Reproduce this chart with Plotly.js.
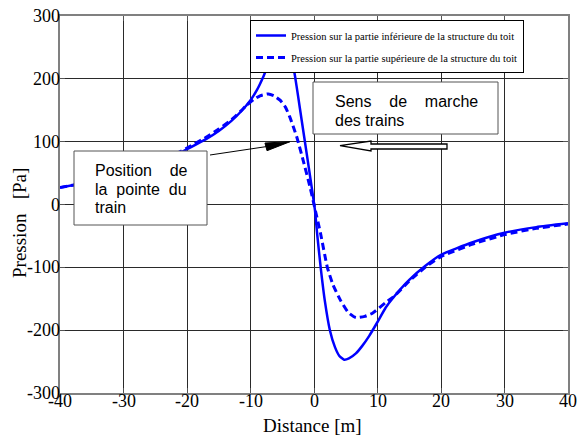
<!DOCTYPE html>
<html>
<head>
<meta charset="utf-8">
<script src="https://cdn.plot.ly/plotly-3.0.1.min.js"></script>
<style>html,body{margin:0;padding:0;background:#fff;}#chart{width:579px;height:435px;}</style>
</head>
<body>
<div id="chart"></div>
<script>
// ---- data ----
const distLower = [-40,-37.8,-35,-30,-25,-20,-17,-15,-13,-11.5,-10,-9,-8,-7,-6,-5,-4,-3.5,-3,-2.5,-1.94,-1.15,-0.37,0.15,0.5,1.05,1.7,2.5,3.3,4,4.74,5.5,6.6,7.6,8.7,10,11.3,12.5,15,17.5,20,25,30,35,40];
const presLower = [27,31,36,46,62,88,104,117,133,148,166,182,203,228,251,262,251,233,205,172,134,81,28,-9,-47,-100,-153,-200,-227,-241,-247,-245,-237,-225,-209,-187,-164,-148,-120,-98,-80,-60,-45,-36,-30];
const distUpper = [-40,-37.8,-35,-30,-25,-20,-17,-15,-13,-11.5,-10.6,-9.5,-8.5,-7.2,-6.3,-5.35,-4.5,-3.8,-3.2,-2.7,-1.7,-0.63,0,1.05,2.1,3,4.2,5.4,6.6,8,9.2,11.3,12.5,15,17.5,20,25,30,35,40];
const presUpper = [27,31,36,47,64,90,107,120,135,149,158,167,173,176,173,166,155,139,122,107,70,28,0,-47,-100,-128,-153,-172,-180,-178,-173,-156,-147,-122,-100,-83,-63,-48,-38,-31];
const nameLower = 'Pression sur la partie inférieure de la structure du toit';
const nameUpper = 'Pression sur la partie supérieure de la structure du toit';
const xTicks = [-40,-30,-20,-10,0,10,20,30,40];
const xTickText = ['-40','-30','-20','-10','0','10','20','30','40'];
const yTicks = [-300,-200,-100,0,100,200,300];
const yTickText = ['-300','-200','-100','0','100','200','300'];
const xTitle = 'Distance [m]';
const yTitle = 'Pression   [Pa]';

// ---- layout geometry ----
const W=579, H=435, L=60, R=11, T=16, B=42;
const PW=W-L-R, PH=H-T-B;
const fx = p => (p-L)/PW;
const fy = p => (H-B-p)/PH;
const pt = (x,y) => fx(x).toFixed(4)+','+fy(y).toFixed(4);

const serif = 'Liberation Serif';
const sans = 'Liberation Sans';
const nb = n => '&nbsp;'.repeat(n);

const traces = [
  {x: distLower, y: presLower, name: nameLower, legendgroup:'a', type:'scatter', mode:'lines',
   line:{color:'#0000ff', width:2.5, shape:'spline', smoothing:0.5}},
  {x: distUpper, y: presUpper, name: nameUpper, legendgroup:'b', type:'scatter', mode:'lines',
   line:{color:'#0000ff', width:3, dash:'7px,4px', shape:'spline', smoothing:0.5}}
];

function axis(extra){
  return Object.assign({
    showgrid:true, gridcolor:'#2a2a2a', gridwidth:1, zeroline:false,
    showline:true, linecolor:'#808080', linewidth:1.5, mirror:'ticks',
    ticks:'inside', ticklen:5, tickcolor:'#555', tickmode:'array',
    showticklabels:false
  }, extra);
}

// tick labels as text annotations at the axis tick values
const tickAnnots = [];
xTicks.forEach((v,i)=>tickAnnots.push({xref:'x', yref:'paper', x:v, y:fy(401), xanchor:'center', yanchor:'middle',
  showarrow:false, text:xTickText[i], font:{family:serif, size:18, color:'#000'}}));
yTicks.forEach((v,i)=>tickAnnots.push({xref:'paper', yref:'y', x:fx(62), y:v, xanchor:'right', yanchor:'middle',
  showarrow:false, text:yTickText[i], font:{family:serif, size:18, color:'#000'}}));

const layout = {
  width:W, height:H, margin:{l:L, r:R, t:T, b:B, pad:0},
  paper_bgcolor:'#fff', plot_bgcolor:'#fff', showlegend:true,
  font:{family:serif, size:18, color:'#000'},
  xaxis: axis({range:[-40,40], tickvals:xTicks}),
  yaxis: axis({range:[-300,300], tickvals:yTicks}),
  legend:{x:fx(250), y:fy(20), xanchor:'left', yanchor:'top', bgcolor:'#fff',
     bordercolor:'#000', borderwidth:1, font:{family:serif, size:10.5, color:'#000'},
     itemwidth:30, traceorder:'grouped', tracegroupgap:3},
  shapes:[
    {type:'rect', xref:'paper', yref:'paper', x0:fx(74), x1:fx(207), y0:fy(225), y1:fy(151),
     fillcolor:'#fff', line:{color:'#555', width:1}, layer:'above'},
    {type:'rect', xref:'paper', yref:'paper', x0:fx(313), x1:fx(498), y0:fy(134), y1:fy(82),
     fillcolor:'#fff', line:{color:'#555', width:1}, layer:'above'},
    {type:'line', xref:'paper', yref:'paper', x0:fx(210), y0:fy(155), x1:fx(267), y1:fy(146.5),
     line:{color:'#000', width:1}, layer:'above'},
    {type:'path', xref:'paper', yref:'paper',
     path:'M'+pt(290,141.7)+' L'+pt(265,143)+' L'+pt(267,150.7)+' Z',
     fillcolor:'#000', line:{color:'#000', width:1}, layer:'above'},
    {type:'path', xref:'paper', yref:'paper',
     path:'M'+pt(340,145.7)+' L'+pt(371,141)+' L'+pt(371,144)+' L'+pt(447,144)+' L'+pt(447,149)+' L'+pt(371,149)+' L'+pt(371,151)+' Z',
     fillcolor:'#fff', line:{color:'#000', width:1.3}, layer:'above'}
  ],
  annotations: tickAnnots.concat([
    {xref:'paper', yref:'paper', x:fx(93), y:fy(170.7), xanchor:'left', yanchor:'middle', showarrow:false,
     text:'Position'+nb(4)+'de', font:{family:sans, size:16, color:'#000'}},
    {xref:'paper', yref:'paper', x:fx(93), y:fy(189), xanchor:'left', yanchor:'middle', showarrow:false,
     text:'la'+nb(2)+'pointe'+nb(2)+'du', font:{family:sans, size:16, color:'#000'}},
    {xref:'paper', yref:'paper', x:fx(93), y:fy(207.3), xanchor:'left', yanchor:'middle', showarrow:false,
     text:'train', font:{family:sans, size:16, color:'#000'}},
    {xref:'paper', yref:'paper', x:fx(333), y:fy(101.7), xanchor:'left', yanchor:'middle', showarrow:false,
     text:'Sens'+nb(4)+'de'+nb(4)+'marche', font:{family:sans, size:16, color:'#000'}},
    {xref:'paper', yref:'paper', x:fx(333), y:fy(120), xanchor:'left', yanchor:'middle', showarrow:false,
     text:'des trains', font:{family:sans, size:16, color:'#000'}},
    {xref:'paper', yref:'paper', x:fx(19), y:fy(223), xanchor:'center', yanchor:'middle', showarrow:false,
     textangle:-90, text:yTitle.replace(/ /g,'&nbsp;'), font:{family:serif, size:19, color:'#000'}},
    {xref:'paper', yref:'paper', x:fx(312), y:fy(426), xanchor:'center', yanchor:'middle', showarrow:false,
     text:xTitle, font:{family:serif, size:19, color:'#000'}}
  ])
};

Plotly.newPlot('chart', traces, layout, {displayModeBar:false});
</script>
</body>
</html>
